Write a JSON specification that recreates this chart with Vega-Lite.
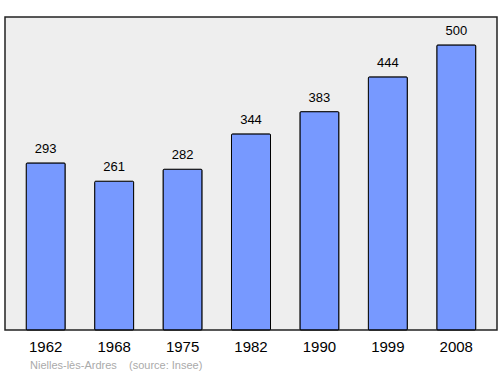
{
  "$schema": "https://vega.github.io/schema/vega-lite/v6.json",
  "autosize": "none",
  "width": 492,
  "height": 313,
  "padding": {"left": 5, "top": 17, "right": 3, "bottom": 44},
  "background": "white",
  "config": {
    "view": {"fill": "#eeeeee", "stroke": "#222222", "strokeWidth": 1.5},
    "font": "Liberation Sans"
  },
  "title": {
    "text": "Nielles-lès-Ardres\u00a0\u00a0\u00a0\u00a0(source: Insee)",
    "orient": "bottom",
    "anchor": "start",
    "fontSize": 11,
    "fontWeight": "normal",
    "color": "#aaaaaa",
    "font": "Liberation Sans",
    "dx": 25,
    "offset": 6
  },
  "data": {
    "values": [
      {"year": "1962", "pop": 293},
      {"year": "1968", "pop": 261},
      {"year": "1975", "pop": 282},
      {"year": "1982", "pop": 344},
      {"year": "1990", "pop": 383},
      {"year": "1999", "pop": 444},
      {"year": "2008", "pop": 500}
    ]
  },
  "encoding": {
    "x": {
      "field": "year",
      "type": "nominal",
      "sort": null,
      "scale": {"paddingInner": 0.43, "paddingOuter": 0.31},
      "axis": {
        "title": null,
        "labelAngle": 0,
        "ticks": false,
        "domain": false,
        "labelFontSize": 15,
        "labelColor": "#000000",
        "labelPadding": 9,
        "labelFont": "Liberation Sans"
      }
    },
    "y": {
      "field": "pop",
      "type": "quantitative",
      "scale": {"domain": [0, 549], "nice": false, "zero": true},
      "axis": null
    }
  },
  "layer": [
    {
      "mark": {"type": "bar", "color": "#7799ff", "stroke": "#000000", "strokeWidth": 1, "cornerRadius": 1}
    },
    {
      "mark": {"type": "text", "baseline": "alphabetic", "dy": -10, "fontSize": 13, "color": "#000000", "font": "Liberation Sans"},
      "encoding": {"text": {"field": "pop", "type": "quantitative"}}
    }
  ]
}
